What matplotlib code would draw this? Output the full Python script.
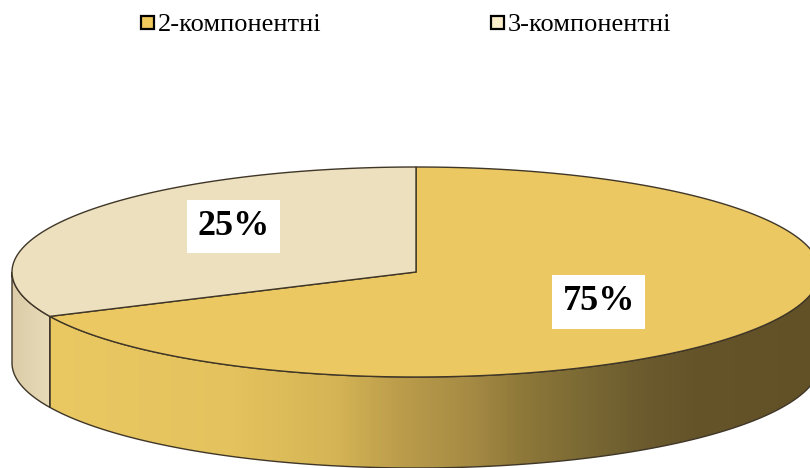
import numpy as np
import matplotlib
matplotlib.use("Agg")
import matplotlib.pyplot as plt
from matplotlib.patches import Polygon, Rectangle
from matplotlib.colors import LinearSegmentedColormap

# ---- data ----
categories = ["2-компонентні", "3-компонентні"]
shares = [75, 25]
top_colors = ["#EBC862", "#EDE0BF"]
legend_colors = ["#F0C95C", "#FBEFCB"]

# ---- layout (pixel space of an 810x468 canvas) ----
W, H = 810, 468
cx, cy = 416, 272          # centre of the top face
ra, rb = 404, 105          # semi-axes of the top ellipse
depth = 91                 # thickness of the disc
skew = 12.5                # 3-D angle skew (degrees)
start = 90.0               # first slice starts at 12 o'clock, clockwise

fig = plt.figure(figsize=(W / 100, H / 100), dpi=100)
ax = fig.add_axes([0, 0, 1, 1])
ax.set_xlim(0, W)
ax.set_ylim(H, 0)
ax.axis("off")


def view_angle(phi):
    """Map a true slice angle to the angle drawn on the tilted ellipse."""
    return phi + skew * (1 - np.cos(np.radians(2 * (phi - 90))))


def rim(theta, dz=0.0):
    t = np.radians(theta)
    return np.column_stack([cx + ra * np.cos(t), cy - rb * np.sin(t) + dz])


# slice boundaries in true degrees (clockwise from the top)
bounds = [start]
for s in shares:
    bounds.append(bounds[-1] - 360.0 * s / sum(shares))

edge = "#3f3628"

# side walls (front half only: 180..360 degrees on the ellipse)
side_grad = LinearSegmentedColormap.from_list(
    "wall",
    [(0.00, "#EAC862"), (0.25, "#E4C25D"), (0.38, "#D4B455"), (0.46, "#BC9D4B"),
     (0.55, "#A68B44"), (0.62, "#8E7839"), (0.70, "#7A6934"), (0.78, "#6A5A2D"),
     (0.84, "#65542A"), (1.00, "#625127")])
side_flat = LinearSegmentedColormap.from_list("wall2", ["#DCCCA8", "#E8DBB8"])

for i in range(len(shares)):
    a0 = view_angle(bounds[i + 1])
    a1 = view_angle(bounds[i])
    lo, hi = sorted((a0 % 360, a1 % 360 if a1 % 360 > a0 % 360 else a1 % 360 + 360))
    # clip range to the visible front arc
    seg_lo, seg_hi = max(lo, 180), min(hi, 360)
    if seg_hi <= seg_lo:
        lo2, hi2 = lo - 360, hi - 360
        seg_lo, seg_hi = max(lo2, 180), min(hi2, 360)
        if seg_hi <= seg_lo:
            continue
    th = np.linspace(seg_lo, seg_hi, 200)
    top = rim(th)
    bot = rim(th[::-1], depth)
    pts = np.vstack([top, bot])
    poly = Polygon(pts, closed=True, facecolor="none", edgecolor=edge, lw=1.0, zorder=3)
    ax.add_patch(poly)
    cmap = side_grad if i == 0 else side_flat
    grad = np.linspace(0, 1, 512).reshape(1, -1)
    x0, x1 = pts[:, 0].min(), pts[:, 0].max()
    if i == 0:
        x0, x1 = 40, cx + ra
    img = ax.imshow(grad, cmap=cmap, aspect="auto",
                    extent=[x0, x1, pts[:, 1].max(), pts[:, 1].min()], zorder=2)
    img.set_clip_path(Polygon(pts, closed=True, transform=ax.transData))

# top faces
for i in range(len(shares)):
    a_hi = view_angle(bounds[i])
    a_lo = view_angle(bounds[i + 1])
    th = np.linspace(a_hi, a_lo, 400)
    pts = np.vstack([[cx, cy], rim(th)])
    ax.add_patch(Polygon(pts, closed=True, facecolor=top_colors[i],
                         edgecolor=edge, lw=1.0, zorder=4))

# percentage labels
label_r = [0.53, 0.63]
label_nudge = [0.0, -11.0]
for i, s in enumerate(shares):
    mid = view_angle((bounds[i] + bounds[i + 1]) / 2) + label_nudge[i]
    t = np.radians(mid)
    lx = cx + label_r[i] * ra * np.cos(t) + 2
    ly = cy - label_r[i] * rb * np.sin(t)
    ax.text(lx, ly, f"{s}%", ha="center", va="center", fontsize=26,
            fontweight="bold", family="Liberation Serif", color="black", zorder=6,
            bbox=dict(boxstyle="square,pad=0.28", facecolor="white", edgecolor="none"))

# legend
leg_x = [141, 491]
for i, name in enumerate(categories):
    ax.add_patch(Rectangle((leg_x[i], 16), 13, 13, facecolor=legend_colors[i],
                           edgecolor="black", lw=1.6, zorder=6))
    ax.text(leg_x[i] + 17, 25, name, ha="left", va="center", fontsize=19,
            family="Liberation Serif", color="black", zorder=6)

fig.savefig("out.png", dpi=100, facecolor="white")
